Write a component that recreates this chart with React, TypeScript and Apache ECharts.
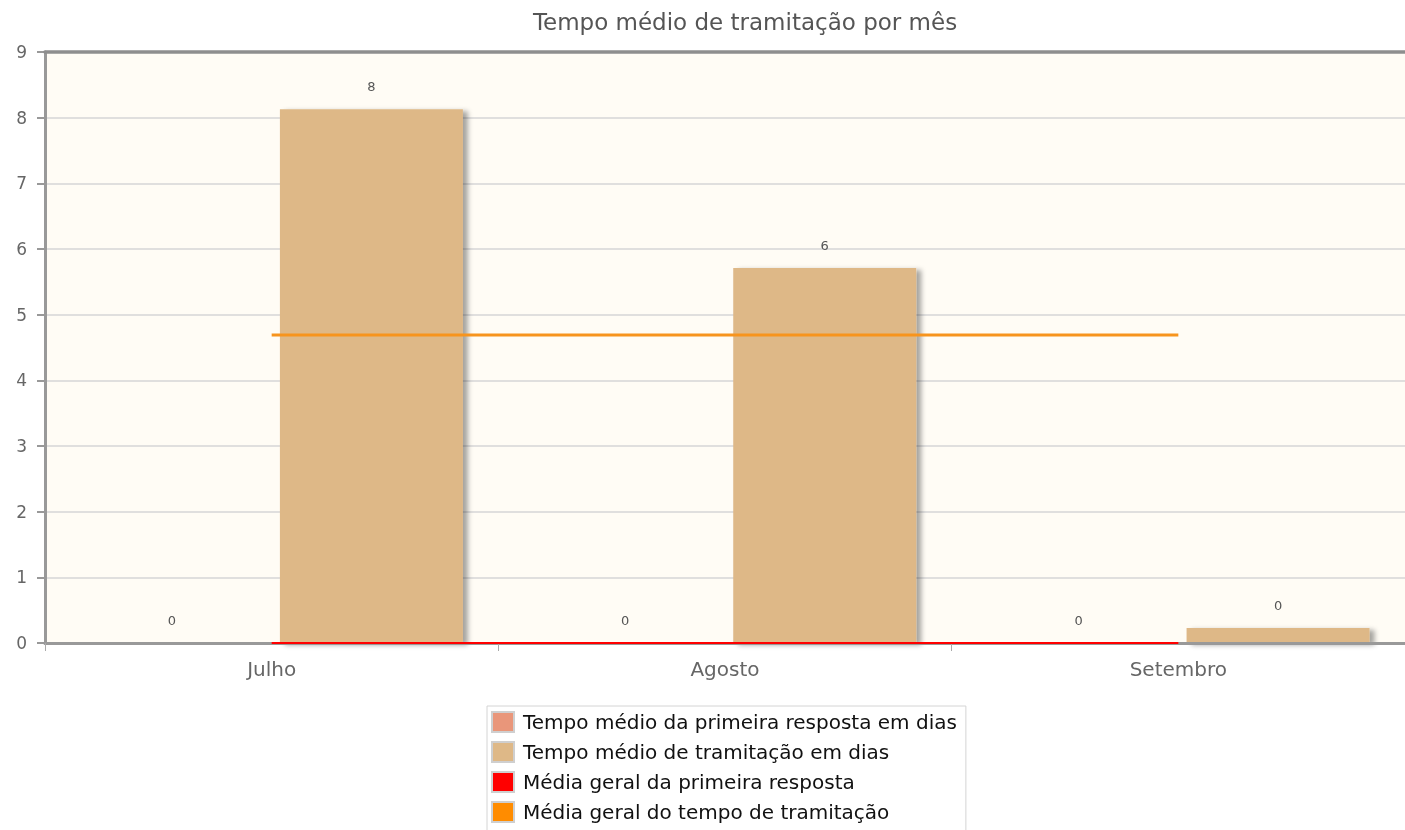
import React, { useEffect, useRef } from "react";
import * as echarts from "echarts";

const categories = ["Julho", "Agosto", "Setembro"];
const primeiraResposta = [0, 0, 0];
const tramitacao = [8.13, 5.71, 0.23];
const mediaPrimeira = [0, 0, 0];
const mediaTramitacao = [4.69, 4.69, 4.69];
const barLabels = { primeira: ["0", "0", "0"], tramitacao: ["8", "6", "0"] };
const seriesNames = [
  "Tempo médio da primeira resposta em dias",
  "Tempo médio de tramitação em dias",
  "Média geral da primeira resposta",
  "Média geral do tempo de tramitação",
];
const title = "Tempo médio de tramitação por mês";

const FONT = "DejaVu Sans, Verdana, sans-serif";

export default function App() {
  const ref = useRef<HTMLDivElement>(null);
  useEffect(() => {
    if (!ref.current) return;
    const chart = echarts.init(ref.current, null, { renderer: "svg" });
    const barShadow = {
      shadowColor: "rgba(0,0,0,0.35)",
      shadowBlur: 5,
      shadowOffsetX: 5,
      shadowOffsetY: 2,
    };
    chart.setOption({
      animation: false,
      textStyle: { fontFamily: FONT },
      graphic: [
        {
          type: "text",
          x: 745,
          y: 22,
          style: {
            text: title,
            fontFamily: FONT,
            fontSize: 23,
            fill: "#555",
            textAlign: "center",
            textVerticalAlign: "middle",
          },
        },
      ],
      grid: {
        left: 45,
        top: 52,
        right: -5,
        bottom: 187,
        show: true,
        backgroundColor: "#fffcf5",
        borderColor: "#8c8c8c",
        borderWidth: 0,
      },
      legend: {
        orient: "vertical",
        left: 487,
        top: 706,
        height: 140,
        padding: [5, 9, 30, 4],
        backgroundColor: "#fff",
        borderColor: "#d4d4d4",
        borderWidth: 1,
        itemWidth: 22,
        itemHeight: 20,
        itemGap: 8,
        icon: "rect",
        itemStyle: { borderColor: "#cfcfcf", borderWidth: 2 },
        textStyle: {
          fontFamily: FONT,
          fontSize: 20,
          color: "#111",
          padding: [0, 0, 0, 4],
        },
        data: seriesNames,
      },
      xAxis: [
        {
          type: "category",
          data: categories,
          z: 3,
          axisLine: { lineStyle: { color: "#999", width: 3 } },
          axisTick: { show: true, length: 8, lineStyle: { color: "#aaa", width: 1 } },
          axisLabel: { color: "#666", fontSize: 20, fontFamily: FONT, margin: 16 },
          splitLine: { show: false },
        },
        {
          type: "category",
          data: categories,
          position: "top",
          z: 3,
          axisLine: { show: true, lineStyle: { color: "#8e8e8e", width: 3.5 } },
          axisTick: { show: false },
          axisLabel: { show: false },
          splitLine: { show: false },
        },
      ],
      yAxis: {
        type: "value",
        min: 0,
        max: 9,
        interval: 1,
        axisLine: { show: true, lineStyle: { color: "#999", width: 3 } },
        axisTick: { show: true, length: 8, lineStyle: { color: "#999", width: 2 } },
        axisLabel: { color: "#666", fontSize: 17, fontFamily: FONT, margin: 18 },
        splitLine: { lineStyle: { color: "#d6d6d6", width: 1.5 } },
      },
      series: [
        {
          name: seriesNames[0],
          type: "bar",
          data: primeiraResposta,
          barWidth: 183,
          barGap: "9%",
          itemStyle: { color: "#E9967A", ...barShadow },
          label: {
            show: true,
            position: "top",
            distance: 16,
            color: "#555",
            fontSize: 13,
            fontFamily: FONT,
            formatter: (p: any) => barLabels.primeira[p.dataIndex],
          },
        },
        {
          name: seriesNames[1],
          type: "bar",
          data: tramitacao,
          barWidth: 183,
          barGap: "9%",
          itemStyle: { color: "#DEB887", ...barShadow },
          label: {
            show: true,
            position: "top",
            distance: 16,
            color: "#555",
            fontSize: 13,
            fontFamily: FONT,
            formatter: (p: any) => barLabels.tramitacao[p.dataIndex],
          },
        },
        {
          name: seriesNames[2],
          type: "line",
          data: mediaPrimeira,
          showSymbol: false,
          symbol: "none",
          z: 5,
          itemStyle: { color: "#FF0000" },
          lineStyle: { color: "#FF0000", width: 2 },
        },
        {
          name: seriesNames[3],
          type: "line",
          data: mediaTramitacao,
          showSymbol: false,
          symbol: "none",
          z: 5,
          itemStyle: { color: "#FF8C00" },
          lineStyle: { color: "#F7941D", width: 3 },
        },
      ],
    });
    return () => chart.dispose();
  }, []);
  return (
    <div
      ref={ref}
      style={{ position: "fixed", left: 0, top: 0, width: 1405, height: 830 }}
    />
  );
}
